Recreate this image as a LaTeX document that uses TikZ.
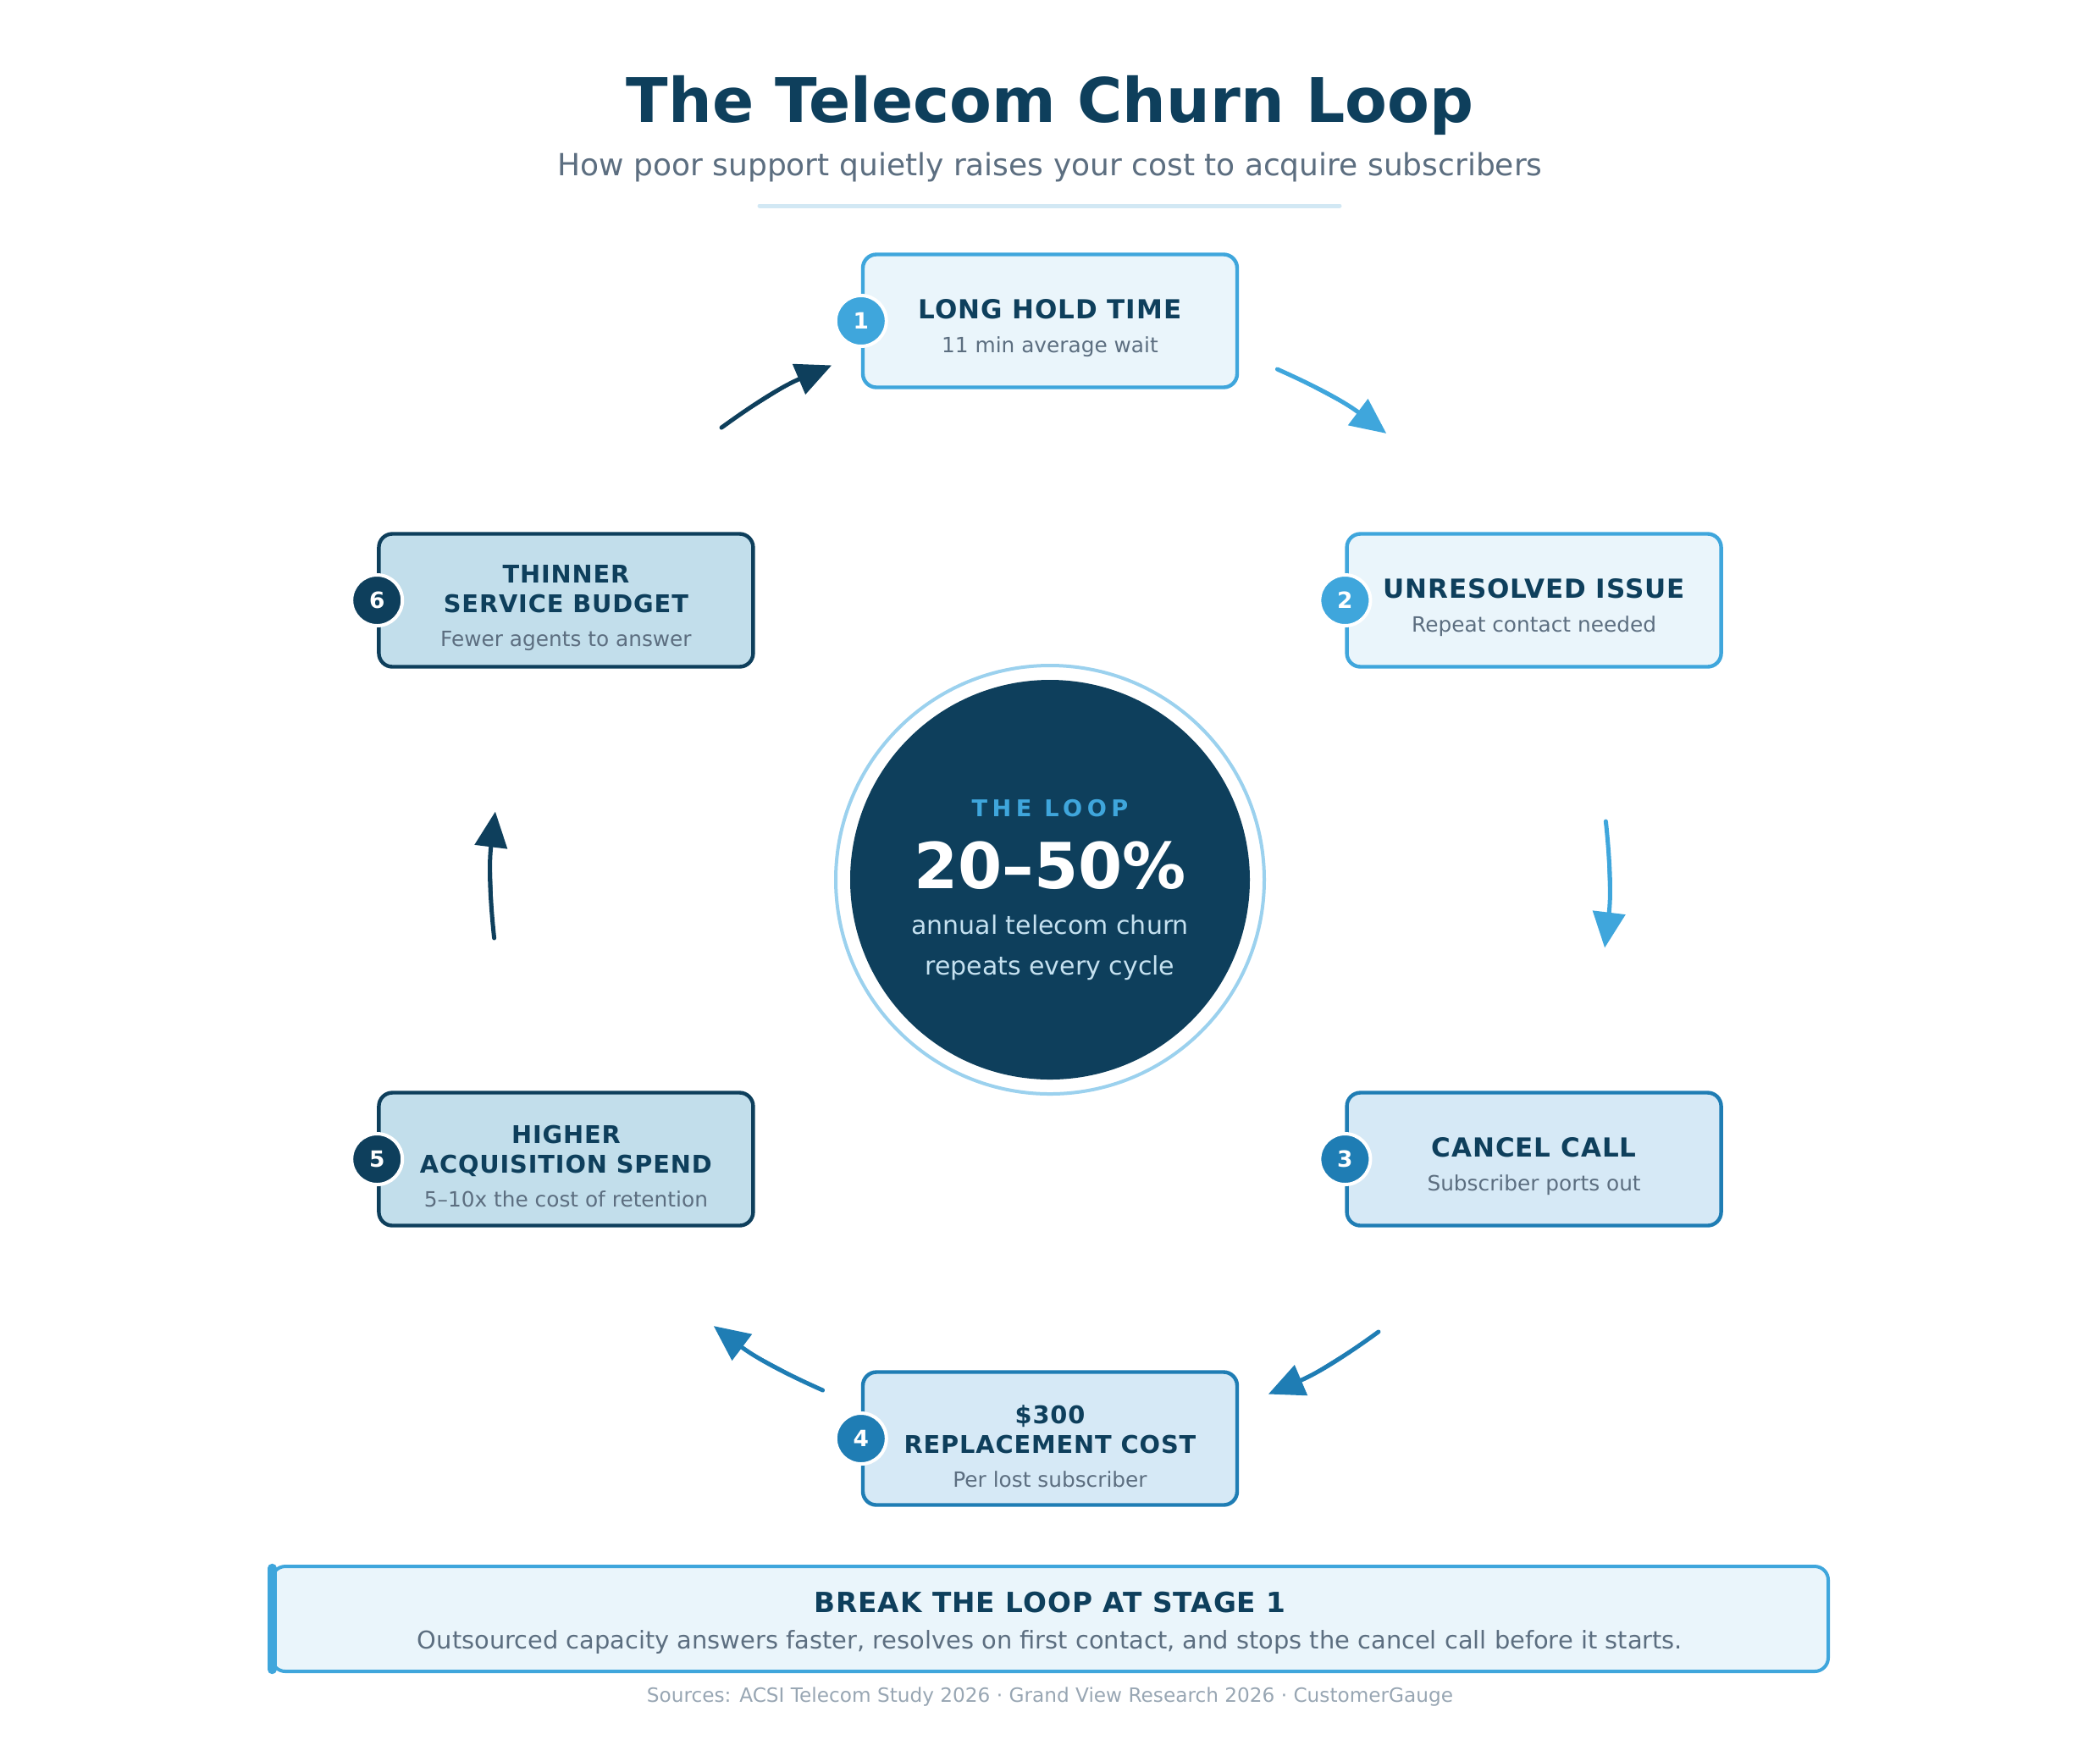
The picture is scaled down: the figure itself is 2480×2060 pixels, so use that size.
\documentclass[tikz,border=0pt]{standalone}
\usepackage{fontspec}
\setmainfont{DejaVu Sans}
\newfontfamily\spacedfont{DejaVu Sans}[LetterSpace=3]
\newfontfamily\widefont{DejaVu Sans}[LetterSpace=20]
\usepackage{xcolor}
\usepackage{tikz}
\usetikzlibrary{arrows.meta, positioning}
\definecolor{navy}{HTML}{0E3F5C}
\definecolor{bright}{HTML}{3FA6DC}
\definecolor{mid}{HTML}{1F7DB4}
\definecolor{pale}{HTML}{EAF5FB}
\definecolor{light}{HTML}{D6E9F6}
\definecolor{soft}{HTML}{C2DEEB}
\definecolor{ring}{HTML}{9BD1EE}
\definecolor{slate}{HTML}{5C6E80}
\definecolor{mist}{HTML}{C5E1F0}
\definecolor{rule}{HTML}{D2E8F4}
\definecolor{faint}{HTML}{98A6B3}

\begin{document}
\begin{tikzpicture}[
  x=0.25pt, y=0.25pt,
  stage/.style={rectangle, rounded corners=4pt, draw=#1, line width=1.1pt, minimum width=110.5pt, minimum height=39.25pt},
  stagetext/.style={align=center, text=navy, font=\spacedfont\bfseries\fontsize{#1}{8.75}\selectfont},
  badge/.style={circle, fill=#1, draw=white, line width=1pt, minimum size=15pt, inner sep=0pt, text=white,
    font=\bfseries\fontsize{6.6}{7}\selectfont},
  arr/.style={-{Triangle[length=10.5pt, width=9.5pt]}, line width=1.25pt, line cap=round, draw=#1, fill=#1}
]
  \path[fill=white] (-1240,-1021) rectangle (1240,1039);
  \useasboundingbox (-1240,-1021) rectangle (1240,1039);

  \node[anchor=base, text=navy, font=\bfseries\fontsize{18.15}{22}\selectfont] (title) at (0,895) {The Telecom Churn Loop};
  \node[anchor=base, text=slate, font=\fontsize{9}{11}\selectfont] (subtitle) at (0,832) {How poor support quietly raises your cost to acquire subscribers};
  \draw[rule, line width=1.25pt, line cap=round] (-343,796) -- (342,796);

  \node[circle, draw=ring, line width=1pt, minimum size=126.5pt] (ringc) at (0,0) {};
  \node[circle, fill=navy, minimum size=118pt] (core) at (0,0) {};
  \node[anchor=base, text=bright, font=\widefont\bfseries\fontsize{6.8}{7}\selectfont] (tag) at (0,75) {THE LOOP};
  \node[anchor=base, text=white, font=\bfseries\fontsize{18.75}{20}\selectfont] (rate) at (0,-10) {20–50\%};
  \node[anchor=base, text=mist, font=\fontsize{7.5}{9}\selectfont] (rateA) at (0,-64) {annual telecom churn};
  \node[anchor=base, text=mist, font=\fontsize{7.5}{9}\selectfont] (rateB) at (0,-112) {repeats every cycle};

  \foreach \i/\ang/\col/\bg/\fs/\ttl/\sub in {
    1/90/bright/pale/7.75/{LONG HOLD TIME}/{11 min average wait},
    2/30/bright/pale/7.75/{UNRESOLVED ISSUE}/{Repeat contact needed},
    3/-30/mid/light/7.75/{CANCEL CALL}/{Subscriber ports out},
    4/-90/mid/light/7.2/{\$300\\REPLACEMENT COST}/{Per lost subscriber},
    5/-150/navy/soft/7.2/{HIGHER\\ACQUISITION SPEND}/{5–10x the cost of retention},
    6/150/navy/soft/7.2/{THINNER\\SERVICE BUDGET}/{Fewer agents to answer}}{
    \node[stage=\col, fill=\bg] (S\i) at (\ang:660) {};
    \node[stagetext=\fs] (T\i) at ([yshift=-2.2pt]S\i.center) {\ttl\\[1.2pt]{\normalfont\fontsize{6.2}{7}\selectfont\color{slate}\sub}};
    \node[badge=\col] (N\i) at (S\i.west) {\i};
  }

  \foreach \i/\ang/\col in {1/90/bright, 2/30/bright, 3/-30/mid, 4/-90/mid, 5/-150/navy, 6/150/navy}{
    \coordinate (A\i) at (\ang-24:660);
    \coordinate (Z\i) at (\ang-37:660);
    \draw[arr=\col] (A\i) to[bend left=6.5] (Z\i);
  }

  \node[rectangle, rounded corners=4pt, draw=bright, fill=pale, line width=1pt, minimum width=459.5pt, minimum height=31pt] (note) at (0,-873) {};
  \node[align=center, text=navy, font=\spacedfont\bfseries\fontsize{8.2}{10}\selectfont] (noteT) at ([yshift=-1.2pt]note.center)
    {BREAK THE LOOP AT STAGE 1\\[0.75pt]{\normalfont\fontsize{7.22}{8}\selectfont\color{slate}Outsourced capacity answers faster, resolves on first contact, and stops the cancel call before it starts.}};
  \draw[bright, line width=2.6pt, line cap=round] ([xshift=0.6pt, yshift=-1pt]note.north west) -- ([xshift=0.6pt, yshift=1pt]note.south west);
  \node[text=faint, font=\fontsize{5.8}{7}\selectfont] (src) at (0,-965) {Sources: ACSI Telecom Study 2026 · Grand View Research 2026 · CustomerGauge};
\end{tikzpicture}
\end{document}
